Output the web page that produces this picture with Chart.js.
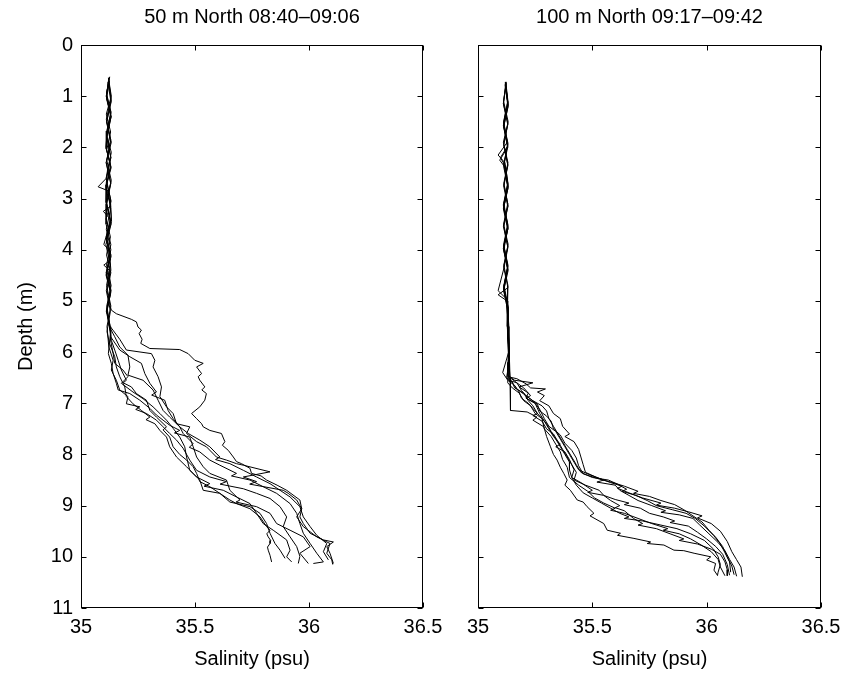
<!DOCTYPE html>
<html>
<head>
<meta charset="utf-8">
<script src="https://cdn.jsdelivr.net/npm/chart.js@4.4.1/dist/chart.umd.min.js"></script>
<style>
  html, body { margin: 0; padding: 0; background: #fff; overflow: hidden; }
  #wrap { position: relative; width: 847px; height: 675px; overflow: hidden; }
  #c1 { position: absolute; left: 0; top: 0; }
  #c2 { position: absolute; left: 440px; top: 0; }
</style>
</head>
<body>
<div id="wrap">
  <canvas id="c1" width="470" height="675"></canvas>
  <canvas id="c2" width="420" height="675"></canvas>
</div>
<script>
// ---------- DATA: [salinity (psu), depth (m)] ----------
const panelTitles = ["50 m North 08:40\u201309:06", "100 m North 09:17\u201309:42"];
const xTickValues = [35, 35.5, 36, 36.5];
const yTickValues = [0, 1, 2, 3, 4, 5, 6, 7, 8, 9, 10, 11];

// 50 m North casts
const L1 = [[35.126,0.62],[35.112,0.95],[35.131,1.3],[35.116,1.65],[35.109,2.0],[35.13,2.35],[35.113,2.7],[35.132,3.05],[35.11,3.4],[35.129,3.75],[35.112,4.1],[35.131,4.45],[35.114,4.8],[35.128,5.1],
  [35.133,5.18],[35.155,5.25],[35.221,5.36],[35.243,5.41],[35.250,5.51],[35.265,5.57],[35.255,5.64],[35.268,5.75],[35.262,5.83],[35.302,5.93],[35.433,5.95],[35.470,6.03],[35.499,6.16],[35.536,6.22],[35.507,6.29],[35.529,6.42],[35.514,6.48],[35.521,6.55],[35.543,6.68],[35.530,6.74],[35.550,6.81],[35.543,6.94],[35.521,7.07],[35.485,7.20],[35.507,7.30],[35.529,7.40],[35.536,7.46],[35.565,7.53],[35.616,7.59],[35.631,7.75],[35.620,7.82],[35.646,7.92],[35.668,8.05],[35.682,8.14],[35.704,8.18],[35.741,8.27],[35.748,8.37],[35.790,8.42],[35.814,8.50],[35.860,8.60],[35.902,8.70],[35.960,8.89],[35.968,9.06],[35.946,9.22],[35.975,9.41],[36.034,9.61],[36.092,9.74],[36.078,9.93],[36.100,10.06],[36.104,10.15]];
const L2 = [[35.12,0.64],[35.133,1.0],[35.111,1.35],[35.13,1.7],[35.113,2.05],[35.132,2.4],[35.11,2.75],[35.128,3.1],[35.134,3.45],[35.112,3.8],[35.127,4.15],[35.11,4.5],[35.13,4.85],[35.113,5.2],[35.128,5.5],
  [35.14,5.57],[35.17,5.75],[35.199,5.96],[35.309,6.03],[35.324,6.16],[35.316,6.29],[35.338,6.48],[35.353,6.68],[35.346,6.87],[35.375,7.07],[35.404,7.20],[35.419,7.40],[35.477,7.46],[35.463,7.59],[35.507,7.75],[35.55,7.85],[35.594,8.05],[35.638,8.11],[35.682,8.18],[35.712,8.21],[35.829,8.34],[35.712,8.44],[35.770,8.53],[35.740,8.58],[35.887,8.70],[35.909,8.76],[35.946,8.89],[35.968,9.06],[35.960,9.22],[35.975,9.35],[36.005,9.54],[36.063,9.67],[36.107,9.71],[36.078,9.80],[36.092,9.93],[36.107,10.13]];
const L3 = [[35.122,0.66],[35.111,1.0],[35.132,1.4],[35.114,1.8],[35.131,2.2],[35.112,2.6],[35.075,2.77],[35.12,2.85],[35.13,3.2],[35.111,3.6],[35.131,4.0],[35.113,4.4],[35.132,4.8],[35.114,5.2],[35.129,5.6],
  [35.13,5.70],[35.170,5.96],[35.214,6.09],[35.265,6.22],[35.280,6.42],[35.302,6.61],[35.331,6.78],[35.310,6.84],[35.367,6.94],[35.382,7.14],[35.404,7.30],[35.433,7.46],[35.448,7.59],[35.492,7.79],[35.475,7.86],[35.521,7.95],[35.565,8.11],[35.609,8.21],[35.682,8.37],[35.660,8.42],[35.741,8.50],[35.799,8.63],[35.858,8.76],[35.917,8.96],[35.946,9.15],[35.960,9.35],[35.975,9.54],[36.005,9.74],[36.034,9.93],[36.063,10.10],[36.019,10.13]];
const L4 = [[35.125,0.7],[35.112,1.05],[35.131,1.4],[35.112,1.75],[35.133,2.1],[35.116,2.45],[35.109,2.8],[35.13,3.15],[35.098,3.25],[35.128,3.4],[35.111,3.75],[35.131,4.1],[35.11,4.45],[35.13,4.8],[35.114,5.15],
  [35.133,5.77],[35.148,5.96],[35.163,6.16],[35.177,6.35],[35.199,6.55],[35.185,6.60],[35.221,6.68],[35.243,6.81],[35.287,6.94],[35.302,7.14],[35.331,7.27],[35.375,7.46],[35.360,7.52],[35.389,7.66],[35.404,7.85],[35.433,8.00],[35.463,8.11],[35.492,8.24],[35.507,8.37],[35.521,8.53],[35.565,8.63],[35.609,8.76],[35.653,8.89],[35.682,8.96],[35.741,9.06],[35.785,9.22],[35.814,9.41],[35.829,9.48],[35.815,9.55],[35.821,9.61],[35.832,9.68],[35.829,9.74],[35.818,9.81],[35.821,9.87],[35.829,9.97],[35.836,10.10]];
const L5 = [[35.121,0.68],[35.132,1.05],[35.111,1.45],[35.13,1.85],[35.113,2.25],[35.133,2.65],[35.111,3.05],[35.129,3.45],[35.1,3.9],[35.124,4.0],[35.131,4.4],[35.111,4.8],[35.129,5.2],[35.114,5.6],
  [35.125,5.83],[35.148,6.09],[35.155,6.29],[35.170,6.48],[35.192,6.68],[35.199,6.87],[35.228,7.01],[35.265,7.14],[35.302,7.27],[35.285,7.32],[35.324,7.40],[35.346,7.53],[35.375,7.66],[35.389,7.85],[35.419,8.05],[35.463,8.24],[35.507,8.44],[35.565,8.57],[35.540,8.62],[35.624,8.70],[35.682,8.83],[35.741,8.96],[35.770,9.15],[35.799,9.35],[35.843,9.48],[35.902,9.67],[35.917,9.87],[35.902,10.00],[35.924,10.10]];
const L6 = [[35.118,0.72],[35.131,1.1],[35.113,1.5],[35.133,1.9],[35.11,2.3],[35.13,2.7],[35.112,3.1],[35.132,3.5],[35.109,3.9],[35.129,4.3],[35.112,4.7],[35.131,5.1],[35.114,5.5],
  [35.122,5.90],[35.141,6.16],[35.133,6.35],[35.155,6.55],[35.170,6.74],[35.206,6.87],[35.199,7.01],[35.258,7.07],[35.240,7.12],[35.287,7.20],[35.331,7.33],[35.360,7.46],[35.389,7.59],[35.419,7.72],[35.448,7.88],[35.477,8.11],[35.507,8.31],[35.565,8.44],[35.638,8.53],[35.610,8.58],[35.712,8.67],[35.770,8.76],[35.829,8.86],[35.873,9.02],[35.902,9.22],[35.887,9.41],[35.917,9.61],[35.946,9.80],[35.960,9.99],[35.953,10.13]];
const L7 = [[35.123,0.65],[35.111,1.0],[35.132,1.4],[35.112,1.8],[35.131,2.2],[35.11,2.6],[35.129,3.0],[35.133,3.4],[35.111,3.8],[35.13,4.2],[35.1,4.3],[35.124,4.4],[35.129,4.8],[35.111,5.2],[35.13,5.6],
  [35.12,6.03],[35.133,6.22],[35.141,6.42],[35.155,6.61],[35.163,6.74],[35.214,6.81],[35.258,6.94],[35.302,7.10],[35.331,7.23],[35.360,7.33],[35.389,7.43],[35.433,7.53],[35.410,7.58],[35.477,7.66],[35.492,7.85],[35.507,8.05],[35.536,8.24],[35.565,8.37],[35.638,8.50],[35.653,8.70],[35.697,8.89],[35.680,8.93],[35.770,9.02],[35.829,9.15],[35.858,9.35],[35.917,9.48],[35.975,9.61],[36.005,9.80],[35.960,9.93],[35.997,10.13]];
const L8 = [[35.12,0.7],[35.133,1.1],[35.112,1.5],[35.13,1.9],[35.111,2.3],[35.131,2.7],[35.113,3.1],[35.11,3.5],[35.131,3.9],[35.112,4.3],[35.132,4.7],[35.113,5.1],[35.128,5.5],
  [35.13,5.77],[35.141,6.03],[35.148,6.22],[35.184,6.35],[35.206,6.48],[35.177,6.61],[35.228,6.78],[35.272,6.91],[35.316,7.07],[35.346,7.20],[35.375,7.33],[35.404,7.49],[35.433,7.66],[35.455,7.85],[35.463,8.05],[35.477,8.31],[35.521,8.50],[35.536,8.70],[35.609,8.76],[35.653,8.93],[35.741,9.02],[35.785,9.15],[35.814,9.35],[35.829,9.54],[35.851,9.74],[35.873,9.87],[35.895,10.03]];
const L9 = [[35.124,0.63],[35.112,0.98],[35.132,1.33],[35.113,1.68],[35.111,2.03],[35.131,2.38],[35.113,2.73],[35.11,3.08],[35.13,3.43],[35.112,3.78],[35.132,4.13],[35.111,4.48],[35.13,4.83],[35.113,5.18],
  [35.125,5.51],[35.148,5.70],[35.170,5.90],[35.206,6.06],[35.214,6.29],[35.206,6.45],[35.272,6.55],[35.316,6.74],[35.338,6.94],[35.360,7.14],[35.389,7.27],[35.433,7.46],[35.470,7.59],[35.521,7.72],[35.565,7.85],[35.609,8.05],[35.590,8.10],[35.653,8.18],[35.712,8.31],[35.770,8.44],[35.829,8.57],[35.873,8.70],[35.917,8.83],[35.960,9.02],[35.975,9.22],[36.005,9.41],[36.034,9.58],[36.078,9.74],[36.063,9.90],[36.085,10.06]];

// 100 m North casts
const R1 = [[35.12,0.72],[35.13,1.1],[35.112,1.5],[35.128,1.9],[35.088,2.15],[35.118,2.3],[35.131,2.7],[35.113,3.1],[35.13,3.5],[35.112,3.9],[35.131,4.3],[35.114,4.7],[35.131,5.1],[35.128,5.5],[35.134,5.9],[35.135,6.2],[35.14,6.5],[35.142,7.14],
  [35.215,7.17],[35.258,7.27],[35.240,7.33],[35.288,7.46],[35.300,7.65],[35.317,7.85],[35.330,8.0],[35.346,8.11],[35.360,8.25],[35.375,8.37],[35.390,8.50],[35.380,8.6],[35.404,8.70],[35.434,8.89],[35.460,8.93],[35.477,9.02],[35.507,9.15],[35.490,9.2],[35.550,9.35],[35.565,9.48],[35.623,9.54],[35.610,9.58],[35.682,9.64],[35.755,9.71],[35.740,9.74],[35.813,9.77],[35.857,9.87],[35.900,9.88],[35.945,9.93],[36.018,10.00],[36.000,10.06],[36.039,10.13],[36.032,10.26],[36.047,10.36]];
const R2 = [[35.122,0.74],[35.111,1.15],[35.13,1.55],[35.113,1.95],[35.131,2.35],[35.112,2.75],[35.13,3.15],[35.113,3.55],[35.131,3.95],[35.114,4.35],[35.088,4.8],[35.122,4.95],[35.131,5.35],[35.13,5.75],[35.136,6.15],[35.135,6.55],
  [35.17,6.6],[35.2,6.7],[35.23,6.85],[35.21,6.9],[35.25,7.0],[35.27,7.2],[35.29,7.35],[35.31,7.5],[35.33,7.65],[35.36,7.8],[35.34,7.85],[35.38,7.95],[35.40,8.1],[35.42,8.3],[35.41,8.45],[35.45,8.55],[35.50,8.7],[35.48,8.74],[35.55,8.8],[35.58,8.9],[35.62,9.0],[35.60,9.04],[35.64,9.1],[35.68,9.25],[35.72,9.35],[35.70,9.38],[35.78,9.45],[35.84,9.55],[35.90,9.65],[35.88,9.68],[35.96,9.75],[36.02,9.85],[36.06,9.95],[36.08,10.1],[36.09,10.25],[36.09,10.37]];
const R3 = [[35.121,0.76],[35.132,1.2],[35.112,1.6],[35.13,2.0],[35.095,2.25],[35.12,2.4],[35.131,2.8],[35.111,3.2],[35.13,3.6],[35.113,4.0],[35.132,4.4],[35.112,4.8],[35.131,5.2],[35.129,5.6],[35.136,6.0],[35.13,6.48],
  [35.17,6.52],[35.21,6.62],[35.23,6.7],[35.295,6.72],[35.26,6.78],[35.29,6.85],[35.27,6.95],[35.31,7.05],[35.33,7.2],[35.36,7.3],[35.37,7.45],[35.40,7.6],[35.38,7.65],[35.42,7.75],[35.44,7.9],[35.45,8.05],[35.46,8.2],[35.47,8.35],[35.52,8.45],[35.58,8.55],[35.63,8.62],[35.61,8.66],[35.66,8.75],[35.72,8.85],[35.80,8.95],[35.78,8.99],[35.86,9.05],[35.92,9.12],[35.98,9.2],[35.96,9.24],[36.02,9.35],[36.06,9.5],[36.09,9.7],[36.11,9.9],[36.13,10.05],[36.15,10.2],[36.156,10.39]];
const R4 = [[35.119,0.73],[35.13,1.12],[35.112,1.52],[35.131,1.92],[35.113,2.32],[35.129,2.72],[35.111,3.12],[35.131,3.52],[35.113,3.92],[35.13,4.32],[35.112,4.72],[35.131,5.12],[35.13,5.52],[35.132,5.92],[35.134,6.25],[35.125,6.5],
  [35.15,6.58],[35.16,6.7],[35.20,6.8],[35.22,6.95],[35.24,7.05],[35.26,7.2],[35.24,7.24],[35.28,7.35],[35.30,7.5],[35.33,7.6],[35.35,7.75],[35.37,7.9],[35.39,8.05],[35.41,8.2],[35.43,8.35],[35.42,8.5],[35.47,8.6],[35.53,8.7],[35.55,8.8],[35.60,8.88],[35.66,8.95],[35.64,8.98],[35.71,9.05],[35.75,9.15],[35.81,9.22],[35.86,9.3],[35.84,9.33],[35.92,9.4],[35.96,9.52],[36.00,9.65],[36.04,9.8],[36.07,9.95],[36.09,10.15],[36.10,10.36]];
const R5 = [[35.123,0.75],[35.111,1.14],[35.131,1.54],[35.112,1.94],[35.13,2.34],[35.114,2.74],[35.132,3.14],[35.111,3.54],[35.13,3.94],[35.112,4.34],[35.131,4.74],[35.088,4.88],[35.127,5.0],[35.13,5.4],[35.136,5.8],[35.131,6.2],[35.13,6.45],
  [35.16,6.55],[35.24,6.6],[35.18,6.68],[35.22,6.8],[35.21,6.9],[35.25,7.0],[35.27,7.12],[35.29,7.3],[35.31,7.45],[35.34,7.55],[35.36,7.7],[35.38,7.85],[35.40,8.0],[35.42,8.15],[35.44,8.3],[35.49,8.4],[35.55,8.5],[35.52,8.54],[35.60,8.6],[35.62,8.7],[35.66,8.8],[35.70,8.9],[35.76,9.0],[35.82,9.1],[35.80,9.13],[35.88,9.18],[35.94,9.25],[35.97,9.38],[36.01,9.55],[36.05,9.72],[36.08,9.88],[36.10,10.05],[36.12,10.2],[36.131,10.38]];
const R6 = [[35.12,0.78],[35.132,1.18],[35.113,1.58],[35.129,1.98],[35.098,2.2],[35.121,2.38],[35.132,2.78],[35.112,3.18],[35.131,3.58],[35.111,3.98],[35.13,4.38],[35.113,4.78],[35.132,5.18],[35.131,5.58],[35.137,5.98],[35.132,6.3],[35.13,6.6],
  [35.15,6.7],[35.18,6.8],[35.20,6.95],[35.23,7.05],[35.25,7.2],[35.28,7.3],[35.29,7.5],[35.32,7.65],[35.34,7.8],[35.36,7.95],[35.37,8.1],[35.39,8.25],[35.40,8.45],[35.44,8.6],[35.48,8.72],[35.51,8.85],[35.55,8.95],[35.60,9.05],[35.58,9.09],[35.64,9.15],[35.70,9.25],[35.76,9.35],[35.83,9.45],[35.81,9.48],[35.88,9.55],[35.93,9.65],[35.98,9.78],[36.02,9.9],[36.05,10.05],[36.06,10.2],[36.08,10.37]];
const R7 = [[35.124,0.72],[35.112,1.1],[35.132,1.5],[35.111,1.9],[35.131,2.3],[35.113,2.7],[35.13,3.1],[35.112,3.5],[35.132,3.9],[35.113,4.3],[35.131,4.7],[35.129,5.1],[35.135,5.5],[35.135,5.9],[35.138,6.2],[35.14,6.5],
  [35.17,6.6],[35.19,6.75],[35.21,6.85],[35.24,6.95],[35.28,7.05],[35.30,7.15],[35.31,7.3],[35.33,7.45],[35.35,7.6],[35.37,7.75],[35.39,7.9],[35.41,8.05],[35.43,8.2],[35.45,8.35],[35.50,8.45],[35.57,8.5],[35.61,8.58],[35.65,8.68],[35.63,8.72],[35.69,8.8],[35.74,8.9],[35.78,9.0],[35.85,9.08],[35.91,9.15],[35.95,9.25],[35.99,9.4],[36.03,9.58],[36.06,9.75],[36.08,9.92],[36.10,10.1],[36.105,10.3]];
const R8 = [[35.118,0.77],[35.13,1.17],[35.111,1.57],[35.131,1.97],[35.112,2.37],[35.13,2.77],[35.113,3.17],[35.132,3.57],[35.111,3.97],[35.129,4.37],[35.112,4.77],[35.132,5.17],[35.13,5.57],[35.136,5.97],[35.108,6.4],[35.13,6.55],
  [35.16,6.65],[35.18,6.78],[35.19,6.9],[35.22,7.0],[35.24,7.1],[35.27,7.25],[35.30,7.4],[35.32,7.55],[35.34,7.7],[35.36,7.85],[35.38,8.0],[35.40,8.15],[35.40,8.3],[35.41,8.45],[35.43,8.6],[35.46,8.75],[35.50,8.85],[35.54,8.95],[35.58,9.05],[35.62,9.15],[35.66,9.22],[35.64,9.25],[35.72,9.3],[35.80,9.38],[35.87,9.45],[35.93,9.55],[35.99,9.68],[36.03,9.85],[36.05,10.0],[36.06,10.15],[36.05,10.3],[36.047,10.37]];
const R9 = [[35.122,0.74],[35.132,1.14],[35.112,1.54],[35.13,1.94],[35.113,2.34],[35.132,2.74],[35.111,3.14],[35.13,3.54],[35.113,3.94],[35.131,4.34],[35.112,4.74],[35.132,5.14],[35.131,5.54],[35.137,5.94],[35.136,6.3],[35.135,6.5],
  [35.15,6.6],[35.17,6.72],[35.20,6.82],[35.23,6.92],[35.26,7.02],[35.27,7.15],[35.30,7.25],[35.32,7.35],[35.33,7.5],[35.36,7.62],[35.38,7.78],[35.41,7.92],[35.43,8.07],[35.44,8.22],[35.46,8.38],[35.53,8.48],[35.59,8.55],[35.64,8.62],[35.70,8.72],[35.68,8.76],[35.75,8.82],[35.80,8.9],[35.86,8.98],[35.90,9.08],[35.94,9.2],[35.98,9.32],[36.01,9.48],[36.04,9.62],[36.07,9.8],[36.09,10.0],[36.11,10.18],[36.12,10.35]];

const leftCasts = [L1, L2, L3, L4, L5, L6, L7, L8, L9];
const rightCasts = [R1, R2, R3, R4, R5, R6, R7, R8, R9];

// ---------- CHARTS ----------
const FONT = "'Liberation Sans', Arial, Helvetica, sans-serif";
const FS = 20;

const framePlugin = {
  id: 'frame',
  afterDraw(chart) {
    const { ctx, chartArea: a, scales: { x, y } } = chart;
    const L = Math.round(a.left) + 0.5, R = Math.round(a.right) - 0.5;
    const T = Math.round(a.top) + 0.5, B = Math.round(a.bottom) - 0.5;
    ctx.save();
    ctx.strokeStyle = '#000';
    ctx.lineWidth = 1;
    ctx.strokeRect(L, T, R - L, B - T);
    const tl = 5;
    ctx.beginPath();
    y.ticks.forEach(t => {
      const py = Math.round(y.getPixelForValue(t.value)) + 0.5;
      ctx.moveTo(L, py); ctx.lineTo(L + tl, py);
      ctx.moveTo(R, py); ctx.lineTo(R - tl, py);
    });
    x.ticks.forEach(t => {
      const px = Math.round(x.getPixelForValue(t.value)) + 0.5;
      ctx.moveTo(px, B); ctx.lineTo(px, B - tl);
      ctx.moveTo(px, T); ctx.lineTo(px, T + tl);
    });
    ctx.stroke();
    ctx.restore();
  }
};

function makeChart(canvasId, casts, title, showY, yWidth, padRight) {
  const datasets = casts.map(c => ({
    data: c.map(p => ({ x: p[0], y: p[1] })),
    showLine: true,
    borderColor: '#000',
    borderWidth: 1,
    pointRadius: 0,
    tension: 0,
    fill: false
  }));
  return new Chart(document.getElementById(canvasId), {
    type: 'scatter',
    data: { datasets },
    plugins: [framePlugin],
    options: {
      responsive: false,
      animation: false,
      events: [],
      layout: { padding: { left: 0, right: padRight, top: 0, bottom: 0 } },
      plugins: {
        legend: { display: false },
        tooltip: { enabled: false },
        title: {
          display: true,
          fullSize: false,
          text: title,
          color: '#000',
          font: { family: FONT, size: FS, weight: 'normal', lineHeight: 1.2 },
          padding: { top: 5, bottom: 16 }
        }
      },
      scales: {
        x: {
          type: 'linear',
          min: 35, max: 36.5,
          afterBuildTicks: s => { s.ticks = xTickValues.map(v => ({ value: v })); },
          afterFit: s => { s.height = 67; },
          grid: { display: false, drawTicks: false },
          border: { display: false },
          ticks: {
            color: '#000',
            font: { family: FONT, size: FS },
            padding: 7,
            maxRotation: 0,
            autoSkip: false,
            callback: v => String(v)
          },
          title: {
            display: true,
            text: 'Salinity (psu)',
            color: '#000',
            font: { family: FONT, size: FS },
            padding: { top: 0, bottom: 4 }
          }
        },
        y: {
          type: 'linear',
          reverse: true,
          min: 0, max: 11,
          afterBuildTicks: s => { s.ticks = yTickValues.map(v => ({ value: v })); },
          afterFit: s => { s.width = yWidth; },
          grid: { display: false, drawTicks: false },
          border: { display: false },
          ticks: {
            display: showY,
            color: '#000',
            font: { family: FONT, size: FS },
            padding: 8,
            autoSkip: false,
            callback: v => String(v)
          },
          title: {
            display: showY,
            text: 'Depth (m)',
            color: '#000',
            font: { family: FONT, size: FS },
            padding: { top: 14, bottom: 0 }
          }
        }
      }
    }
  });
}

// left panel: plot area 81..423 px; right panel: 478..821 px (canvas starts at 440)
makeChart('c1', leftCasts, panelTitles[0], true, 81, 47);
makeChart('c2', rightCasts, panelTitles[1], false, 38, 39);
</script>
</body>
</html>
